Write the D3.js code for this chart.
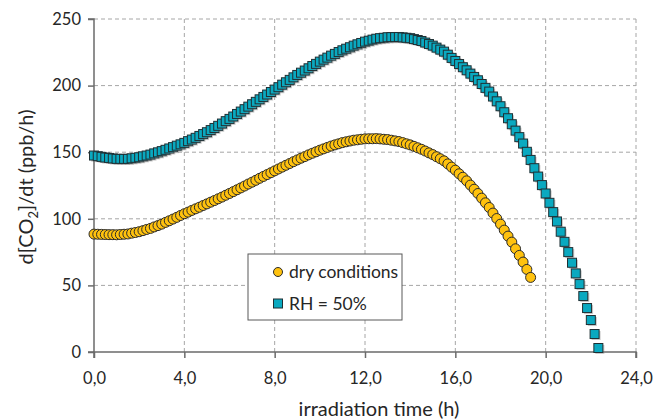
<!DOCTYPE html>
<html>
<head>
<meta charset="utf-8">
<script src="https://cdn.jsdelivr.net/npm/d3@7"></script>
<style>
  body { margin: 0; background: #fff; }
  text { font-family: Lato, "Open Sans", sans-serif; fill: #262626; }
</style>
</head>
<body>
<div id="chart-area"></div>
<script>
// time since start of irradiation, in minutes (one reading every 10 min)
var minutes = [
    0, 10, 20, 30, 40, 50, 60, 70, 80, 90, 100, 110, 120, 130, 140, 150, 160, 170,
    180, 190, 200, 210, 220, 230, 240, 250, 260, 270, 280, 290, 300, 310, 320, 330,
    340, 350, 360, 370, 380, 390, 400, 410, 420, 430, 440, 450, 460, 470, 480, 490,
    500, 510, 520, 530, 540, 550, 560, 570, 580, 590, 600, 610, 620, 630, 640, 650,
    660, 670, 680, 690, 700, 710, 720, 730, 740, 750, 760, 770, 780, 790, 800, 810,
    820, 830, 840, 850, 860, 870, 880, 890, 900, 910, 920, 930, 940, 950, 960, 970,
    980, 990, 1000, 1010, 1020, 1030, 1040, 1050, 1060, 1070, 1080, 1090, 1100, 1110,
    1120, 1130, 1140, 1150, 1160, 1170, 1180, 1190, 1200, 1210, 1220, 1230, 1240, 1250,
    1260, 1270, 1280, 1290, 1300, 1310, 1320, 1330, 1340
];

// d[CO2]/dt, dry conditions (ppb/h)
var dryRate = [
    88.5, 88.4, 88.3, 88.2, 88.1, 88.1, 88.0, 88.2, 88.4, 88.6, 89.2, 89.7,
    90.3, 91.1, 92.0, 92.8, 93.9, 94.9, 96.0, 97.3, 98.5, 99.8, 101.1, 102.5,
    103.8, 105.0, 106.3, 107.5, 108.7, 110.0, 111.2, 112.5, 113.7, 115.0, 116.3, 117.7,
    119.0, 120.4, 121.8, 123.2, 124.6, 126.1, 127.5, 128.9, 130.4, 131.8, 133.2, 134.6,
    136.0, 137.4, 138.8, 140.2, 141.5, 142.9, 144.2, 145.5, 146.7, 148.0, 149.2, 150.3,
    151.5, 152.5, 153.6, 154.6, 155.5, 156.3, 157.2, 157.8, 158.4, 159.0, 159.3, 159.7,
    160.0, 160.1, 160.1, 160.2, 160.0, 159.7, 159.5, 159.0, 158.5, 158.0, 157.2, 156.3,
    155.5, 154.4, 153.3, 152.2, 150.9, 149.5, 148.2, 146.6, 145.1, 143.5, 141.2, 138.8,
    136.5, 133.8, 131.2, 128.5, 125.3, 122.2, 119.0, 115.5, 112.0, 108.5, 104.3, 100.2,
    96.0, 91.5, 87.0, 82.5, 77.5, 72.5, 67.5, 62.0, 56.0
];

// d[CO2]/dt, RH = 50% (ppb/h)
var humidRate = [
    147.5, 147.0, 146.5, 146.0, 145.7, 145.3, 145.0, 145.0, 145.0, 145.0, 145.4, 145.8,
    146.2, 146.9, 147.5, 148.2, 149.1, 149.9, 150.8, 151.8, 152.8, 153.8, 154.9, 155.9,
    157.0, 158.3, 159.5, 160.8, 162.2, 163.6, 165.0, 166.6, 168.2, 169.8, 171.5, 173.3,
    175.0, 176.8, 178.7, 180.5, 182.3, 184.2, 186.0, 187.8, 189.7, 191.5, 193.3, 195.2,
    197.0, 198.8, 200.7, 202.5, 204.3, 206.2, 208.0, 209.7, 211.3, 213.0, 214.7, 216.3,
    218.0, 219.5, 221.0, 222.5, 223.8, 225.2, 226.5, 227.7, 228.8, 230.0, 231.0, 232.0,
    233.0, 233.7, 234.5, 235.2, 235.6, 235.9, 236.3, 236.4, 236.4, 236.5, 236.2, 235.9,
    235.6, 234.9, 234.2, 233.5, 232.3, 231.2, 230.0, 228.5, 227.0, 225.5, 223.2, 220.8,
    218.5, 216.2, 213.8, 211.5, 209.0, 206.5, 204.0, 201.2, 198.3, 195.5, 191.8, 188.2,
    184.5, 180.0, 175.5, 171.0, 166.2, 161.3, 156.5, 150.3, 144.2, 138.0, 131.7, 125.3,
    119.0, 112.0, 105.0, 98.0, 90.3, 82.7, 75.0, 67.0, 59.0, 51.0, 42.0, 33.0,
    24.0, 13.5, 3.0
];

var xTicks = [0, 4, 8, 12, 16, 20, 24];
var yTicks = [0, 50, 100, 150, 200, 250];
var seriesNames = ['dry conditions', 'RH = 50%'];

var margins = { top: 19, bottom: 68, left: 94, right: 22 };
var width = 658 - margins.left - margins.right;
var height = 420 - margins.top - margins.bottom;

var svg = d3.select('#chart-area')
    .append('svg')
    .attr('width', 658)
    .attr('height', 420);

var g = svg.append('g')
    .attr('transform', `translate(${margins.left}, ${margins.top})`);

var x = d3.scaleLinear().domain([0, 24]).range([0, width]);
var y = d3.scaleLinear().domain([0, 250]).range([height, 0]);

// dashed grid
g.selectAll('.hgrid')
    .data(yTicks.filter(d => d > 0))
    .enter().append('line')
    .attr('x1', 0).attr('x2', width)
    .attr('y1', d => y(d)).attr('y2', d => y(d))
    .attr('stroke', '#a6a6a6')
    .attr('stroke-dasharray', '4,3');

g.selectAll('.vgrid')
    .data(xTicks.filter(d => d > 0))
    .enter().append('line')
    .attr('x1', d => x(d)).attr('x2', d => x(d))
    .attr('y1', 0).attr('y2', height)
    .attr('stroke', '#a6a6a6')
    .attr('stroke-dasharray', '4,3');

var xAxisCall = d3.axisBottom(x).tickValues(xTicks).tickSize(6).tickPadding(14)
    .tickFormat(d => d3.format('.1f')(d).replace('.', ','));
var yAxisCall = d3.axisLeft(y).tickValues(yTicks).tickSize(6).tickPadding(7);

var xAxis = g.append('g')
    .attr('class', 'x-axis')
    .attr('transform', `translate(0, ${height})`)
    .call(xAxisCall);
var yAxis = g.append('g')
    .attr('class', 'y-axis')
    .call(yAxisCall);

[xAxis, yAxis].forEach(a => {
    a.select('.domain').attr('stroke', '#6b6b6b').attr('stroke-width', 1.5);
    a.selectAll('.tick line').attr('stroke', '#6b6b6b').attr('stroke-width', 1.5);
    a.selectAll('.tick text')
        .attr('font-size', '16.5px')
        .attr('font-family', 'Lato, sans-serif')
        .attr('fill', '#262626');
});
xAxis.select('.domain').attr('d', `M0,6V0H${width}V6`);
yAxis.select('.domain').attr('d', `M-6,${height}H0V0H-6`);

// RH = 50% squares, with a soft shadow
var humidData = humidRate.map((v, i) => ({ t: minutes[i] / 60, v: v }));
var sq = 9;
var sqG = g.selectAll('.sq')
    .data(humidData)
    .enter().append('g')
    .attr('transform', d => `translate(${x(d.t)}, ${y(d.v)})`);
sqG.append('rect')
    .attr('x', -sq / 2 + 1.5).attr('y', -sq / 2 + 1.5)
    .attr('width', sq).attr('height', sq)
    .attr('fill', '#8c8c8c').attr('opacity', 0.45);
sqG.append('rect')
    .attr('x', -sq / 2).attr('y', -sq / 2)
    .attr('width', sq).attr('height', sq)
    .attr('fill', '#0aa9c0')
    .attr('stroke', '#1f2f33')
    .attr('stroke-width', 1);

// dry conditions circles
var dryData = dryRate.map((v, i) => ({ t: minutes[i] / 60, v: v }));
g.selectAll('.dot')
    .data(dryData)
    .enter().append('circle')
    .attr('cx', d => x(d.t))
    .attr('cy', d => y(d.v))
    .attr('r', 5)
    .attr('fill', '#ffc20e')
    .attr('stroke', '#2b2b2b')
    .attr('stroke-width', 1);

// legend
var legend = svg.append('g').attr('transform', 'translate(248, 254)');
legend.append('rect')
    .attr('width', 154).attr('height', 66)
    .attr('fill', '#fff')
    .attr('stroke', '#595959')
    .attr('stroke-width', 1);
legend.append('circle')
    .attr('cx', 30).attr('cy', 18).attr('r', 4.5)
    .attr('fill', '#ffc20e').attr('stroke', '#2b2b2b');
legend.append('rect')
    .attr('x', 25.5).attr('y', 45).attr('width', 9).attr('height', 9)
    .attr('fill', '#0aa9c0').attr('stroke', '#1f2f33');
legend.selectAll('.ltext')
    .data(seriesNames)
    .enter().append('text')
    .attr('x', 41)
    .attr('y', (d, i) => 18 + i * 32)
    .attr('dy', '0.35em')
    .attr('font-size', '17.5px')
    .text(d => d);

// axis titles
svg.append('text')
    .attr('x', 379)
    .attr('y', 416)
    .attr('text-anchor', 'middle')
    .attr('font-size', '20px')
    .text('irradiation time (h)');

var yTitle = svg.append('text')
    .attr('transform', 'translate(33, 187) rotate(-90)')
    .attr('text-anchor', 'middle')
    .attr('font-size', '20px');
yTitle.append('tspan').text('d[CO');
yTitle.append('tspan').attr('font-size', '13px').attr('dy', 5).text('2');
yTitle.append('tspan').attr('dy', -5).text(']/dt (ppb/h)');
</script>
</body>
</html>
